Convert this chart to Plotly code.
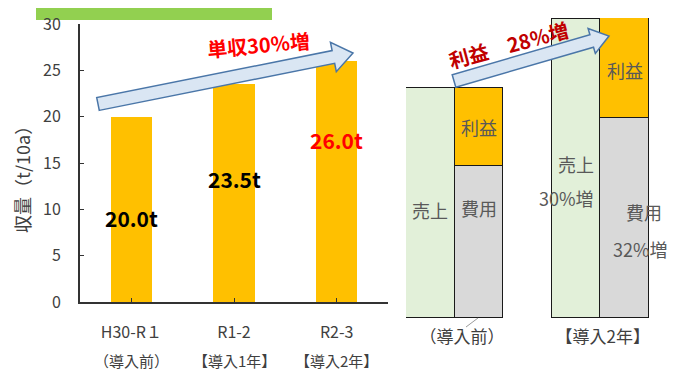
import math
import plotly.graph_objects as go

W, H = 676, 371
OFF = 8  # page body margin offset in the browser
FONT = "Noto Sans CJK JP"

# ---- data ----
periods = ["H30-R１", "R1-2", "R2-3"]
period_sub = ["（導入前）", "【導入1年】", "【導入2年】"]
yield_vals = [20.0, 23.5, 26.0]
label_colors = ["#000000", "#000000", "#FF0000"]
label_y = [9.1, 13.3, 17.5]

pair_names = ["（導入前）", "【導入2年】"]
sales = [100, 130]
cost = [66, 87]
profit = [34, 43.5]


def px(x):
    return (x - OFF) / W


def py(y):
    return 1 - (y - OFF) / H


fig = go.Figure()

# left chart: yield bars
fig.add_trace(go.Bar(
    x=[0, 1, 2], y=yield_vals, width=0.4,
    marker=dict(color="#FFC000", line=dict(width=0)),
    xaxis="x", yaxis="y", showlegend=False, hoverinfo="skip"))

# right chart: sales / cost+profit
pos_sales = [0, 3]
pos_cp = [1, 4]
fig.add_trace(go.Bar(x=pos_sales, y=sales, width=1,
                     marker=dict(color="#E2F0D9", line=dict(color="#1a1a1a", width=1.5)),
                     xaxis="x2", yaxis="y2", showlegend=False, hoverinfo="skip"))
fig.add_trace(go.Bar(x=pos_cp, y=cost, width=1,
                     marker=dict(color="#D9D9D9", line=dict(color="#1a1a1a", width=1.5)),
                     xaxis="x2", yaxis="y2", showlegend=False, hoverinfo="skip"))
fig.add_trace(go.Bar(x=pos_cp, y=profit, width=1,
                     marker=dict(color="#FFC000", line=dict(color="#1a1a1a", width=1.5)),
                     xaxis="x2", yaxis="y2", showlegend=False, hoverinfo="skip"))

annotations = []
shapes = []

# green header box
shapes.append(dict(type="rect", xref="paper", yref="paper",
                   x0=px(36), x1=px(272), y0=py(20), y1=py(-5),
                   fillcolor="#92D050", line=dict(width=0), layer="below"))

# data labels left
for i, v in enumerate(yield_vals):
    annotations.append(dict(x=i, y=label_y[i], xref="x", yref="y",
                            text=f"<b>{v:.1f}t</b>", showarrow=False,
                            xanchor="center", yanchor="middle",
                            font=dict(family=FONT, size=21, color=label_colors[i])))
# second line of category labels
for i, s in enumerate(period_sub):
    annotations.append(dict(x=i, y=py(360), xref="x", yref="paper",
                            text=s, showarrow=False,
                            xanchor="center", yanchor="middle",
                            font=dict(family=FONT, size=15, color="#404040")))
# y axis title
annotations.append(dict(x=px(22), y=py(175), xref="paper", yref="paper",
                        text="収量（t/10a）", textangle=-90, showarrow=False,
                        xanchor="center", yanchor="middle",
                        font=dict(family=FONT, size=18, color="#404040")))


def arrow(x0, y0, x1, y1, bw, hw, hl):
    dx, dy = x1 - x0, y1 - y0
    L = math.hypot(dx, dy)
    ux, uy = dx / L, dy / L
    nx, ny = -uy, ux
    bx, by = x1 - ux * hl, y1 - uy * hl
    pts = [(x0 + nx * bw, y0 + ny * bw), (bx + nx * bw, by + ny * bw),
           (bx + nx * hw, by + ny * hw), (x1, y1),
           (bx - nx * hw, by - ny * hw), (bx - nx * bw, by - ny * bw),
           (x0 - nx * bw, y0 - ny * bw)]
    path = "M " + " L ".join(f"{px(a):.5f},{py(b):.5f}" for a, b in pts) + " Z"
    return dict(type="path", xref="paper", yref="paper", path=path,
                fillcolor="#DAE6F3", line=dict(color="#4A76A8", width=1.5), layer="above")


shapes.append(arrow(98, 104, 353, 53, 6.5, 15, 20))
shapes.append(arrow(454, 81, 609, 36, 6.5, 13, 18))

annotations.append(dict(x=px(258), y=py(45), xref="paper", yref="paper",
                        text="<b>単収30%増</b>", textangle=-5, showarrow=False,
                        xanchor="center", yanchor="middle",
                        font=dict(family=FONT, size=20, color="#FF0000")))
annotations.append(dict(x=px(509), y=py(44), xref="paper", yref="paper",
                        text="<b>利益　28%増</b>", textangle=-15, showarrow=False,
                        xanchor="center", yanchor="middle",
                        font=dict(family=FONT, size=20, color="#C00000")))

# right chart inner labels
TXT = dict(family=FONT, size=18, color="#595959")
inner = [
    (0, 47, "売上"), (1, 83, "利益"), (1, 48, "費用"),
    (3, 67, "売上"), (2.8, 52, "30%増"), (4, 108, "利益"),
    (4.4, 46, "費用"), (4.32, 30, "32%増"),
]
for xx, yy, t in inner:
    annotations.append(dict(x=xx, y=yy, xref="x2", yref="y2", text=t,
                            showarrow=False, xanchor="center", yanchor="middle",
                            font=TXT))

# leader line under first pair
shapes.append(dict(type="line", xref="paper", yref="paper",
                   x0=px(478), y0=py(318), x1=px(466), y1=py(327),
                   line=dict(color="#9a9a9a", width=1)))

fig.update_layout(
    template="none",
    width=W, height=H, margin=dict(l=0, r=0, t=0, b=0, pad=0, autoexpand=False),
    paper_bgcolor="white", plot_bgcolor="rgba(0,0,0,0)",
    barmode="stack", bargap=0, showlegend=False,
    font=dict(family=FONT, color="#595959"),
    xaxis=dict(domain=[px(80), px(388)], range=[-0.5, 2.5], automargin=False,
               tickvals=[0, 1, 2], ticktext=periods,
               showline=True, linecolor="#333333", linewidth=2,
               ticks="inside", ticklen=4, tickcolor="#333333",
               showgrid=False, zeroline=False, ticklabelstandoff=15,
               tickfont=dict(family=FONT, size=16, color="#404040")),
    yaxis=dict(domain=[py(302), py(24)], range=[0, 30], automargin=False,
               tickvals=[0, 5, 10, 15, 20, 25, 30],
               showline=True, linecolor="#333333", linewidth=2,
               ticks="inside", ticklen=4, tickcolor="#333333",
               showgrid=False, zeroline=False, ticklabelstandoff=14,
               tickfont=dict(family=FONT, size=16, color="#404040")),
    xaxis2=dict(domain=[px(406), px(649)], range=[-0.5, 4.5], anchor="y2",
                automargin=False,
                tickvals=[0.65, 3.55], ticktext=pair_names,
                showline=False, showgrid=False, zeroline=False, ticks="",
                ticklabelstandoff=7,
                tickfont=dict(family=FONT, size=17, color="#404040")),
    yaxis2=dict(domain=[py(318), py(18)], range=[0, 130.5], anchor="x2",
                automargin=False, visible=False),
    annotations=annotations, shapes=shapes,
)

fig.write_html("out.html")
